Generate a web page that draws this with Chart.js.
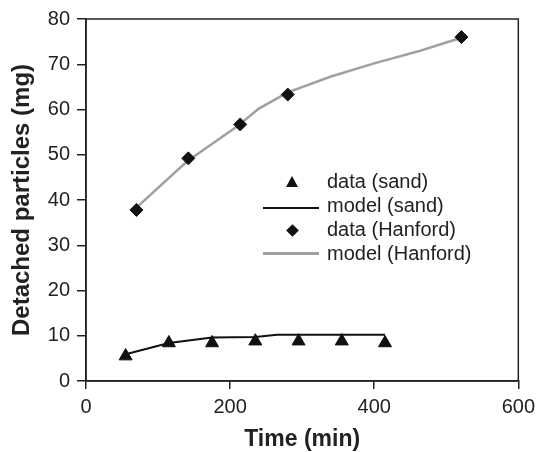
<!DOCTYPE html>
<html lang="en">
<head>
<meta charset="UTF-8">
<title>Detached particles</title>
<script src="https://cdn.jsdelivr.net/npm/chart.js"></script>
<style>
  body { margin: 0; background: #fff; }
  #wrap { position: relative; width: 541px; height: 452px; font-family: "Liberation Sans", Arial, sans-serif; }
  .row { position: absolute; left: 327px; font-size: 20px; line-height: 24px; color: #222; white-space: nowrap; }
  .tri { position: absolute; left: 286px; top: 176px; width: 0; height: 0;
         border-left: 6.5px solid transparent; border-right: 6.5px solid transparent; border-bottom: 11.5px solid #111; }
  .dia { position: absolute; left: 288px; top: 225.5px; width: 9px; height: 9px; background: #111; transform: rotate(45deg); }
  .ln { position: absolute; left: 263px; width: 56px; }
</style>
</head>
<body>
<div id="wrap">
  <canvas id="chart" width="541" height="452"></canvas>
  <div class="tri"></div>
  <div class="row" style="top:169px">data (sand)</div>
  <div class="ln" style="top:207px; height:2px; background:#111"></div>
  <div class="row" style="top:193px">model (sand)</div>
  <div class="dia"></div>
  <div class="row" style="top:217px">data (Hanford)</div>
  <div class="ln" style="top:252px; height:2.5px; background:#a0a0a0"></div>
  <div class="row" style="top:241px">model (Hanford)</div>
</div>
<script>
const sandTime = [55, 115, 175, 235, 295, 355, 415];
const sandData = [5.5, 8.4, 8.4, 8.8, 8.8, 8.8, 8.4];
const sandModelTime = [55, 115, 175, 235, 265, 295, 355, 415];
const sandModel = [5.9, 8.4, 9.6, 9.7, 10.2, 10.2, 10.2, 10.2];
const hanfordTime = [70, 142, 214, 280, 521];
const hanfordData = [37.8, 49.2, 56.7, 63.3, 76.0];
const hanfordModelTime = [70, 140, 210, 240, 280, 340, 400, 460, 490, 520];
const hanfordModel = [38.3, 48.5, 56.3, 60.2, 63.8, 67.3, 70.2, 72.8, 74.3, 75.8];
const xTicks = [0, 200, 400, 600];
const yTicks = [0, 10, 20, 30, 40, 50, 60, 70, 80];

const fam = '"Liberation Sans", Arial, sans-serif';
const ink = '#222';
const pts = (xs, ys) => xs.map((x, i) => ({ x: x, y: ys[i] }));

// box round the plot area
const frame = {
    id: 'frame',
    beforeDatasetsDraw(chart) {
        const { ctx, chartArea: a } = chart;
        ctx.save();
        ctx.strokeStyle = ink;
        ctx.lineWidth = 1.5;
        ctx.strokeRect(a.left, a.top, a.right - a.left, a.bottom - a.top);
        ctx.restore();
    }
};

new Chart(document.getElementById('chart'), {
    type: 'scatter',
    data: {
        datasets: [
            {
                label: 'data (sand)',
                data: pts(sandTime, sandData),
                pointStyle: 'triangle',
                pointRadius: 7.5,
                backgroundColor: '#111',
                borderColor: '#111',
                borderWidth: 1,
                order: 0
            },
            {
                label: 'model (sand)',
                data: pts(sandModelTime, sandModel),
                showLine: true,
                pointRadius: 0,
                borderColor: '#111',
                borderWidth: 2,
                order: 1
            },
            {
                label: 'data (Hanford)',
                data: pts(hanfordTime, hanfordData),
                pointStyle: 'rectRot',
                pointRadius: 6.5,
                backgroundColor: '#111',
                borderColor: '#111',
                borderWidth: 1,
                order: 0
            },
            {
                label: 'model (Hanford)',
                data: pts(hanfordModelTime, hanfordModel),
                showLine: true,
                pointRadius: 0,
                borderColor: '#a0a0a0',
                borderWidth: 2.5,
                order: 1
            }
        ]
    },
    options: {
        responsive: false,
        animation: false,
        devicePixelRatio: 1,
        layout: { padding: { top: 17, right: 20, left: 0, bottom: 0 } },
        plugins: {
            legend: { display: false },
            tooltip: { enabled: false }
        },
        scales: {
            x: {
                type: 'linear',
                min: 0,
                max: 600,
                afterBuildTicks: s => { s.ticks = xTicks.map(v => ({ value: v })); },
                afterFit: s => { s.height = 71; },
                ticks: { font: { size: 20, family: fam }, color: ink, padding: 6 },
                grid: { drawOnChartArea: false, tickLength: 8, color: ink, lineWidth: 1.5 },
                border: { color: ink, width: 1.5 },
                title: {
                    display: true,
                    text: 'Time (min)',
                    color: ink,
                    font: { size: 23, weight: 'bold', family: fam, lineHeight: 1 },
                    padding: { top: 0, bottom: 1 }
                }
            },
            y: {
                type: 'linear',
                min: 0,
                max: 80,
                afterBuildTicks: s => { s.ticks = yTicks.map(v => ({ value: v })); },
                afterFit: s => { s.width = 86; },
                ticks: { font: { size: 20, family: fam }, color: ink, padding: 7 },
                grid: { drawOnChartArea: false, tickLength: 9, color: ink, lineWidth: 1.5 },
                border: { color: ink, width: 1.5 },
                title: {
                    display: true,
                    text: 'Detached particles (mg)',
                    color: ink,
                    font: { size: 24, weight: 'bold', family: fam, lineHeight: 1 },
                    padding: { top: 10, bottom: 0 }
                }
            }
        }
    },
    plugins: [frame]
});
</script>
</body>
</html>
